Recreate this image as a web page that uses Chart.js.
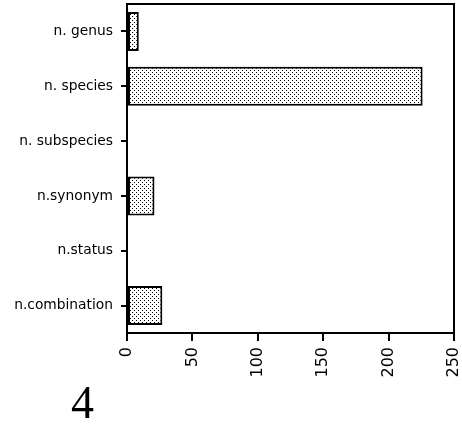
<!DOCTYPE html>
<html>
<head>
<meta charset="utf-8">
<script src="https://cdn.jsdelivr.net/npm/chart.js@4"></script>
<style>
  html, body { margin: 0; padding: 0; background: #fff; overflow: hidden; }
  #wrap { position: relative; width: 462px; height: 385px; }
  #fig { position: absolute; left: 71px; top: 380px; font: 46px/1 "Liberation Serif", serif; color: #000; }
</style>
</head>
<body>
<div id="wrap"><canvas id="chart"></canvas></div>
<div id="fig">4</div>
<script>
const categories = ['n. genus', 'n. species', 'n. subspecies', 'n.synonym', 'n.status', 'n.combination'];
const counts = [9, 226, 0, 21, 0, 27];
const xTicks = [0, 50, 100, 150, 200, 250];

// dotted fill like the printed original
function dotPattern() {
  const c = document.createElement('canvas');
  c.width = 4; c.height = 4;
  const g = c.getContext('2d');
  g.fillStyle = '#fff';
  g.fillRect(0, 0, 4, 4);
  g.fillStyle = '#000';
  g.fillRect(0, 0, 1, 1);
  g.fillRect(2, 2, 1, 1);
  return g.createPattern(c, 'repeat');
}

const frame = {
  id: 'frame',
  afterDraw(chart) {
    const { ctx, chartArea: a } = chart;
    ctx.save();
    ctx.strokeStyle = '#000';
    ctx.lineWidth = 2;
    ctx.beginPath();
    ctx.moveTo(a.left, a.top);
    ctx.lineTo(a.right, a.top);
    ctx.lineTo(a.right, a.bottom);
    ctx.stroke();
    ctx.restore();
  }
};

new Chart(document.getElementById('chart'), {
  type: 'bar',
  data: {
    labels: categories,
    datasets: [{
      data: counts,
      backgroundColor: dotPattern(),
      borderColor: '#000',
      borderWidth: 2,
      borderSkipped: false,
      barPercentage: 0.71,
      categoryPercentage: 1,
    }],
  },
  options: {
    indexAxis: 'y',
    responsive: true,
    maintainAspectRatio: false,
    animation: false,
    layout: { padding: { top: 4, right: 8, left: 0, bottom: 0 } },
    plugins: { legend: { display: false }, tooltip: { enabled: false } },
    scales: {
      x: {
        min: 0, max: 250,
        afterBuildTicks: s => { s.ticks = xTicks.map(v => ({ value: v })); },
        afterFit: s => { s.height = 52; s.paddingLeft = 0; s.paddingRight = 0; },
        border: { color: '#000', width: 2 },
        grid: { drawOnChartArea: false, color: '#000', lineWidth: 2, tickLength: 8 },
        ticks: { color: '#000', font: { family: 'DejaVu Sans', size: 16 }, minRotation: 90, maxRotation: 90, autoSkip: false, padding: 6 },
      },
      y: {
        afterFit: s => { s.width = 127; s.paddingTop = 0; s.paddingBottom = 0; },
        border: { color: '#000', width: 2 },
        grid: { offset: false, drawOnChartArea: false, color: '#000', lineWidth: 2, tickLength: 6 },
        ticks: { color: '#000', font: { family: 'DejaVu Sans', size: 13.8 }, padding: 8 },
      },
    },
  },
  plugins: [frame],
});
</script>
</body>
</html>
